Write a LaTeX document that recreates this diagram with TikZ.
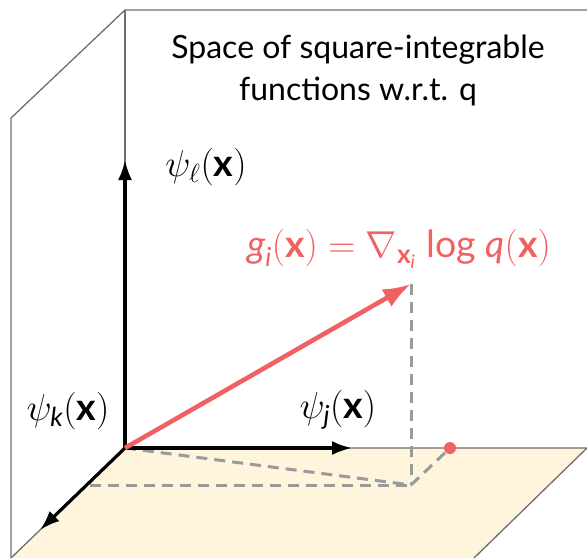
\RequirePackage{fix-cm}
\documentclass[tikz,border=0pt]{standalone}
\usepackage{amsmath}
\usepackage{fontspec}
\setmainfont{Lato}
\setsansfont{Lato}
\usetikzlibrary{arrows.meta}
\definecolor{wallgray}{HTML}{6E6E6E}
\definecolor{dashgray}{HTML}{9A9A9A}
\definecolor{vecred}{HTML}{F06262}
\definecolor{floorfill}{HTML}{FFF4DC}
\newcommand{\bx}{\text{\bfseries x}}
\newcommand{\si}[1]{\text{\itshape #1}}
\begin{document}
\begin{tikzpicture}[x=1pt,y=-1pt,
  wall/.style={draw=wallgray,line width=1.3pt},
  axis/.style={draw=black,line width=3.2pt,-{Latex[length=20pt,width=14pt]}},
  vec/.style={draw=vecred,line width=4.6pt,-{Latex[length=28pt,width=20pt]}},
  proj/.style={draw=dashgray,line width=3pt,dash pattern=on 11pt off 7pt},
  lbl/.style={inner sep=0pt,font=\fontsize{37.5}{44}\selectfont},
  ttl/.style={inner sep=0pt,align=center,font=\fontsize{32}{42}\selectfont}]
\useasboundingbox (0,0) rectangle (587,558);
\coordinate (O) at (125,448);
\coordinate (TL) at (125,10);
\coordinate (TR) at (587,10);
\coordinate (LT) at (11,118);
\coordinate (LB) at (11,558);
\coordinate (FR) at (587,448);
\coordinate (FBR) at (474,558);
\coordinate (Ytip) at (125,160);
\coordinate (Xtip) at (352,448);
\coordinate (Ztip) at (40,530);
\coordinate (G) at (411,284);
\coordinate (P) at (411,485);
\coordinate (PL) at (90,485);
\coordinate (D) at (450,448);
% floor
\fill[floorfill] (O) -- (FR) -- (FBR) -- (LB) -- cycle;
% walls
\draw[wall] (LB) -- (LT) -- (TL) -- (TR);
\draw[wall] (TL) -- (O);
\draw[wall] (O) -- (FR) -- (FBR);
\draw[wall] (O) -- (LB);
% projections
\draw[proj] (G) -- (P);
\draw[proj] (O) -- (P);
\draw[proj] (PL) -- (P);
\draw[proj] (P) -- (D);
% axes
\draw[axis] (O) -- (Ytip);
\draw[axis] (O) -- (Xtip);
\draw[axis] (O) -- (Ztip);
% vector
\draw[vec] (O) -- (G);
\fill[vecred] (D) circle (6pt);
% labels
\node[lbl] (lblL) at (206,167) {$\psi_{\ell}(\bx)$};
\node[lbl] (lblK) at (68,411) {$\psi_{\si{k}}(\bx)$};
\node[lbl] (lblJ) at (338,410) {$\psi_{\si{j}}(\bx)$};
\node[lbl,text=vecred] (lblG) at (399,249) {$\si{g}_{\si{i}}(\bx) = \nabla_{\bx_{\si{i}}}\;\text{log}\ \si{q}(\bx)$};
\node[ttl] (title) at (358,70) {Space of square-integrable\\functions w.r.t. q};
\end{tikzpicture}
\end{document}
